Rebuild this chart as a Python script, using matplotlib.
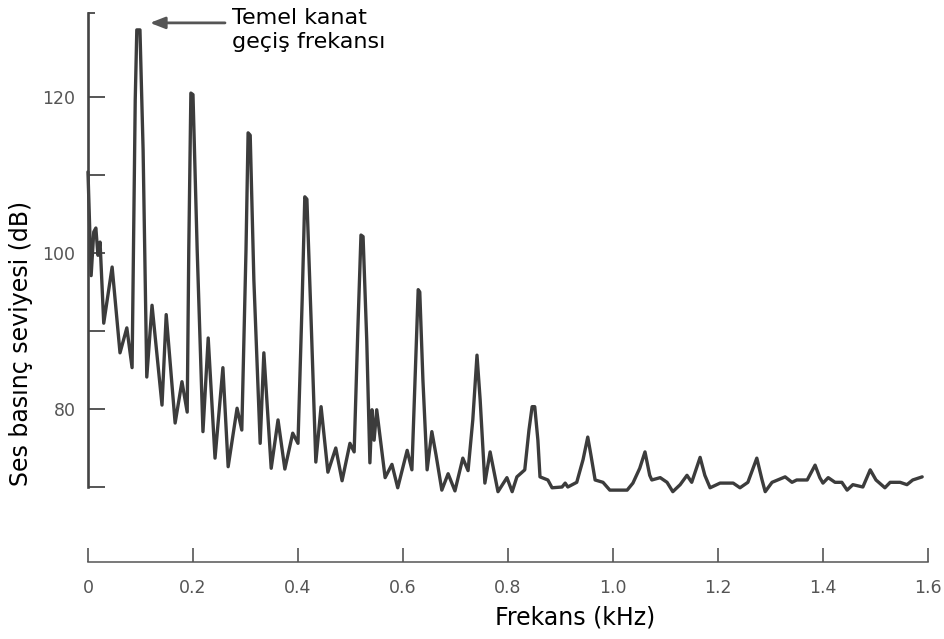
import matplotlib
matplotlib.use("Agg")
import matplotlib.pyplot as plt

# Frequency (kHz) and sound pressure level (dB)
freq = [0.000, 0.006, 0.011, 0.015, 0.019, 0.023, 0.030, 0.046, 0.061, 0.074,
        0.084, 0.090, 0.093, 0.099, 0.105, 0.112, 0.122, 0.141, 0.149, 0.166,
        0.179, 0.189, 0.192, 0.196, 0.200, 0.208, 0.219, 0.229, 0.242, 0.257,
        0.267, 0.284, 0.293, 0.301, 0.305, 0.309, 0.316, 0.328, 0.335, 0.349,
        0.362, 0.375, 0.390, 0.400, 0.408, 0.413, 0.417, 0.425, 0.434, 0.444,
        0.457, 0.472, 0.484, 0.499, 0.507, 0.514, 0.520, 0.524, 0.531, 0.537,
        0.541, 0.545, 0.550, 0.566, 0.579, 0.590, 0.608, 0.617, 0.623, 0.629,
        0.632, 0.638, 0.646, 0.655, 0.663, 0.674, 0.686, 0.699, 0.714, 0.724,
        0.733, 0.741, 0.747, 0.756, 0.766, 0.781, 0.798, 0.808, 0.817, 0.832,
        0.840, 0.846, 0.851, 0.857, 0.861, 0.876, 0.884, 0.903, 0.909, 0.914,
        0.931, 0.943, 0.952, 0.958, 0.966, 0.981, 0.994, 1.027, 1.038, 1.051,
        1.061, 1.070, 1.074, 1.090, 1.103, 1.114, 1.128, 1.141, 1.150, 1.166,
        1.175, 1.185, 1.204, 1.229, 1.242, 1.257, 1.274, 1.284, 1.290, 1.303,
        1.328, 1.341, 1.350, 1.370, 1.385, 1.394, 1.400, 1.410, 1.423, 1.436,
        1.446, 1.457, 1.476, 1.490, 1.501, 1.518, 1.528, 1.547, 1.560, 1.571,
        1.589]
level = [110.4, 97.1, 102.7, 103.2, 99.7, 101.4, 91.0, 98.2, 87.2, 90.4,
         85.3, 119.6, 128.6, 128.6, 113.2, 84.1, 93.3, 80.5, 92.1, 78.2,
         83.5, 79.6, 100.4, 120.5, 120.3, 100.4, 77.1, 89.1, 73.7, 85.3,
         72.6, 80.1, 77.3, 100.4, 115.4, 115.1, 96.5, 75.6, 87.2, 72.4,
         78.6, 72.3, 76.9, 75.6, 94.0, 107.2, 106.9, 91.4, 73.2, 80.3,
         71.9, 75.0, 70.8, 75.6, 74.5, 90.1, 102.3, 102.1, 88.8, 73.1,
         79.9, 76.0, 79.9, 71.2, 72.9, 69.9, 74.7, 72.2, 83.7, 95.3,
         95.0, 83.7, 72.2, 77.1, 74.1, 69.6, 71.7, 69.5, 73.7, 72.1,
         78.6, 86.9, 81.2, 70.5, 74.5, 69.4, 71.2, 69.4, 71.3, 72.2,
         77.3, 80.3, 80.3, 76.0, 71.3, 70.9, 69.9, 70.0, 70.5, 70.0,
         70.6, 73.5, 76.4, 74.1, 70.9, 70.6, 69.6, 69.6, 70.5, 72.4,
         74.5, 71.5, 70.9, 71.2, 70.6, 69.4, 70.3, 71.5, 70.6, 73.8,
         71.5, 69.9, 70.5, 70.5, 69.9, 70.6, 73.7, 70.9, 69.4, 70.6,
         71.3, 70.6, 70.9, 70.9, 72.8, 71.2, 70.5, 71.2, 70.6, 70.6,
         69.6, 70.3, 70.0, 72.2, 70.9, 69.9, 70.6, 70.6, 70.3, 70.9,
         71.3]

xticks = [0, 0.2, 0.4, 0.6, 0.8, 1.0, 1.2, 1.4, 1.6]
xtick_labels = ["0", "0.2", "0.4", "0.6", "0.8", "1.0", "1.2", "1.4", "1.6"]
yticks = [70, 80, 90, 100, 110, 120]
ytick_labels = ["", "80", "", "100", "", "120"]
y_top = 130.8
x_axis_level = 60.4

fig = plt.figure(figsize=(9.44, 6.39), dpi=100)
ax = fig.add_axes([0.0932, 0.1158, 0.8898, 0.8667])
ax.set_xlim(0, 1.6)
ax.set_ylim(60, 131)

curve_color = "#3c3c3c"
ax.plot(freq, level, color=curve_color, lw=2.4, solid_joinstyle="round",
        solid_capstyle="round", clip_on=False)

for s in ["top", "right"]:
    ax.spines[s].set_visible(False)
ax.spines["left"].set_bounds(70, y_top)
ax.spines["left"].set_linewidth(1.9)
ax.spines["left"].set_color("#444444")
ax.spines["bottom"].set_position(("data", x_axis_level))
ax.spines["bottom"].set_bounds(0, 1.6)
ax.spines["bottom"].set_linewidth(1.1)
ax.spines["bottom"].set_color("#555555")

ax.set_yticks(yticks)
ax.set_yticklabels(ytick_labels)
ax.set_yticks([y_top], minor=True)
ax.tick_params(axis="y", which="major", direction="in", length=12, width=1.4,
               color="#555555", pad=9, labelsize=12.5, labelcolor="#555555")
ax.tick_params(axis="y", which="minor", direction="in", length=5, width=1.4,
               color="#555555")
ax.set_xticks(xticks)
ax.set_xticklabels(xtick_labels)
ax.tick_params(axis="x", direction="in", length=10, width=1.2, color="#555555",
               pad=12, labelsize=12.5, labelcolor="#555555")

fig.text(0.022, 0.462, "Ses basınç seviyesi (dB)", rotation=90, ha="center",
         va="center", fontsize=17, color="black", family="DejaVu Sans")
fig.text(0.609, 0.034, "Frekans (kHz)", ha="center", va="center", fontsize=17,
         color="black", family="DejaVu Sans")

ax.annotate("", xy=(0.118, 129.5), xytext=(0.261, 129.5),
            arrowprops=dict(arrowstyle="-|>,head_length=0.9,head_width=0.35",
                            color="#555555", lw=2, shrinkA=0, shrinkB=0),
            annotation_clip=False)
ax.text(0.274, 131.4, "Temel kanat\ngeçiş frekansı", ha="left", va="top",
        fontsize=16, color="black", linespacing=1.25, clip_on=False,
        family="DejaVu Sans")

fig.savefig("out.png", dpi=100)
